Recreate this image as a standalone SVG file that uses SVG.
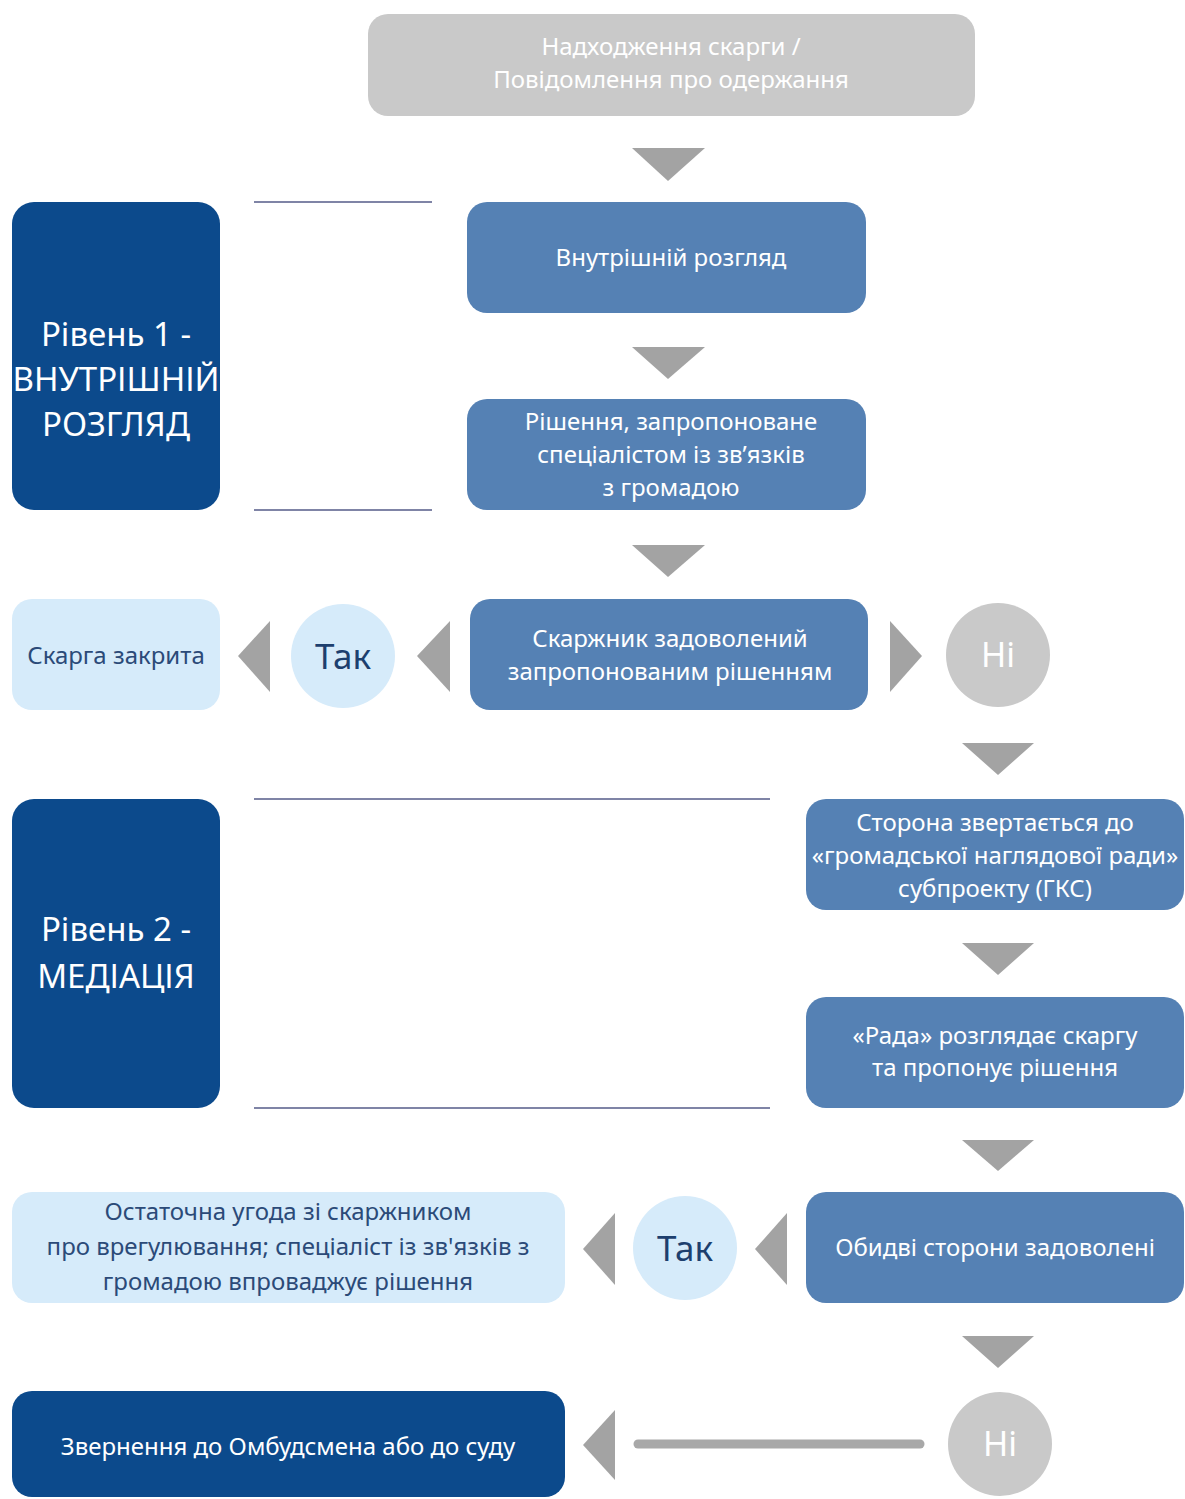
<svg xmlns="http://www.w3.org/2000/svg" width="1185" height="1499" viewBox="0 0 1185 1499">
<style>
text{font-family:"Noto Sans","Open Sans",sans-serif;text-anchor:middle;dominant-baseline:central}
.mid{fill:#5581b4}
.dark{fill:#0c4a8c}
.light{fill:#d6ebfa}
.gray{fill:#c9c9c9}
.tri{fill:#a3a3a3}
.tw{fill:#ffffff;font-size:24px}
.tl{fill:#2b4a78;font-size:24px}
.big{fill:#ffffff;font-size:33px}
.sep{stroke:#7f84a6;stroke-width:2}
</style>
<rect width="1185" height="1499" fill="#ffffff"/>
<g id="connectors">
<line class="sep" x1="254" y1="202" x2="432" y2="202"/>
<line class="sep" x1="254" y1="510" x2="432" y2="510"/>
<line class="sep" x1="254" y1="799" x2="770" y2="799"/>
<line class="sep" x1="254" y1="1108" x2="770" y2="1108"/>
<polygon class="tri" points="632,148 705,148 668,181"/>
<polygon class="tri" points="632,347 705,347 668,379"/>
<polygon class="tri" points="632,545 705,545 668,577"/>
<polygon class="tri" points="450,621 450,692 417,656"/>
<polygon class="tri" points="270,621 270,692 238,656"/>
<polygon class="tri" points="890,621 890,692 922,656"/>
<polygon class="tri" points="962,743 1034,743 998,775"/>
<polygon class="tri" points="962,943 1034,943 998,975"/>
<polygon class="tri" points="962,1140 1034,1140 998,1171"/>
<polygon class="tri" points="787,1213 787,1285 755,1249"/>
<polygon class="tri" points="615,1213 615,1285 583,1249"/>
<polygon class="tri" points="962,1336 1034,1336 998,1368"/>
<line x1="638" y1="1444" x2="920" y2="1444" stroke="#a8a8a8" stroke-width="9" stroke-linecap="round"/>
<polygon class="tri" points="615,1410 615,1480 583,1445"/>
</g>
<g id="receipt">
<rect class="gray" x="368" y="14" width="607" height="102" rx="20"/>
<text class="tw" x="671" y="45">Надходження скарги /</text>
<text class="tw" x="671" y="78">Повідомлення про одержання</text>
</g>
<g id="level1">
<rect class="dark" x="12" y="202" width="208" height="308" rx="22"/>
<text class="big" x="116" y="333">Рівень 1 -</text>
<text class="big" x="116" y="378">ВНУТРІШНІЙ</text>
<text class="big" x="116" y="423">РОЗГЛЯД</text>
</g>
<g id="internal-review">
<rect class="mid" x="467" y="202" width="399" height="111" rx="20"/>
<text class="tw" x="671" y="256">Внутрішній розгляд</text>
</g>
<g id="proposed-solution">
<rect class="mid" x="467" y="399" width="399" height="111" rx="20"/>
<text class="tw" x="671" y="420">Рішення, запропоноване</text>
<text class="tw" x="671" y="453">спеціалістом із зв’язків</text>
<text class="tw" x="671" y="486">з громадою</text>
</g>
<g id="satisfied">
<rect class="mid" x="470" y="599" width="398" height="111" rx="20"/>
<text class="tw" x="670" y="637">Скаржник  задоволений</text>
<text class="tw" x="670" y="670">запропонованим рішенням</text>
</g>
<g id="yes1">
<circle class="light" cx="343" cy="656" r="52"/>
<text x="343" y="655" font-size="35" fill="#1d3f6e">Так</text>
</g>
<g id="closed">
<rect class="light" x="12" y="599" width="208" height="111" rx="20"/>
<text class="tl" x="116" y="654">Скарга закрита</text>
</g>
<g id="no1">
<circle class="gray" cx="998" cy="655" r="52"/>
<text x="998" y="654" font-size="34" fill="#ffffff">Ні</text>
</g>
<g id="level2">
<rect class="dark" x="12" y="799" width="208" height="309" rx="22"/>
<text class="big" x="116" y="928">Рівень 2 -</text>
<text class="big" x="116" y="975">МЕДІАЦІЯ</text>
</g>
<g id="council-appeal">
<rect class="mid" x="806" y="799" width="378" height="111" rx="20"/>
<text class="tw" x="995" y="821">Сторона звертається до</text>
<text class="tw" x="995" y="854">«громадської наглядової ради»</text>
<text class="tw" x="995" y="887">субпроекту (ГКС)</text>
</g>
<g id="council-review">
<rect class="mid" x="806" y="997" width="378" height="111" rx="20"/>
<text class="tw" x="995" y="1034">«Рада» розглядає скаргу</text>
<text class="tw" x="995" y="1066">та пропонує рішення</text>
</g>
<g id="both-satisfied">
<rect class="mid" x="806" y="1192" width="378" height="111" rx="20"/>
<text class="tw" x="995" y="1246">Обидві сторони задоволені</text>
</g>
<g id="yes2">
<circle class="light" cx="685" cy="1248" r="52"/>
<text x="685" y="1247" font-size="35" fill="#1d3f6e">Так</text>
</g>
<g id="final-agreement">
<rect class="light" x="12" y="1192" width="553" height="111" rx="20"/>
<text class="tl" x="288" y="1210">Остаточна угода зі скаржником</text>
<text class="tl" x="288" y="1245">про врегулювання; спеціаліст із зв'язків з</text>
<text class="tl" x="288" y="1280">громадою впроваджує рішення</text>
</g>
<g id="no2">
<circle class="gray" cx="1000" cy="1444" r="52"/>
<text x="1000" y="1443" font-size="34" fill="#ffffff">Ні</text>
</g>
<g id="ombudsman">
<rect class="dark" x="12" y="1391" width="553" height="106" rx="20"/>
<text class="tw" x="288" y="1445">Звернення до Омбудсмена або до суду</text>
</g>
</svg>
